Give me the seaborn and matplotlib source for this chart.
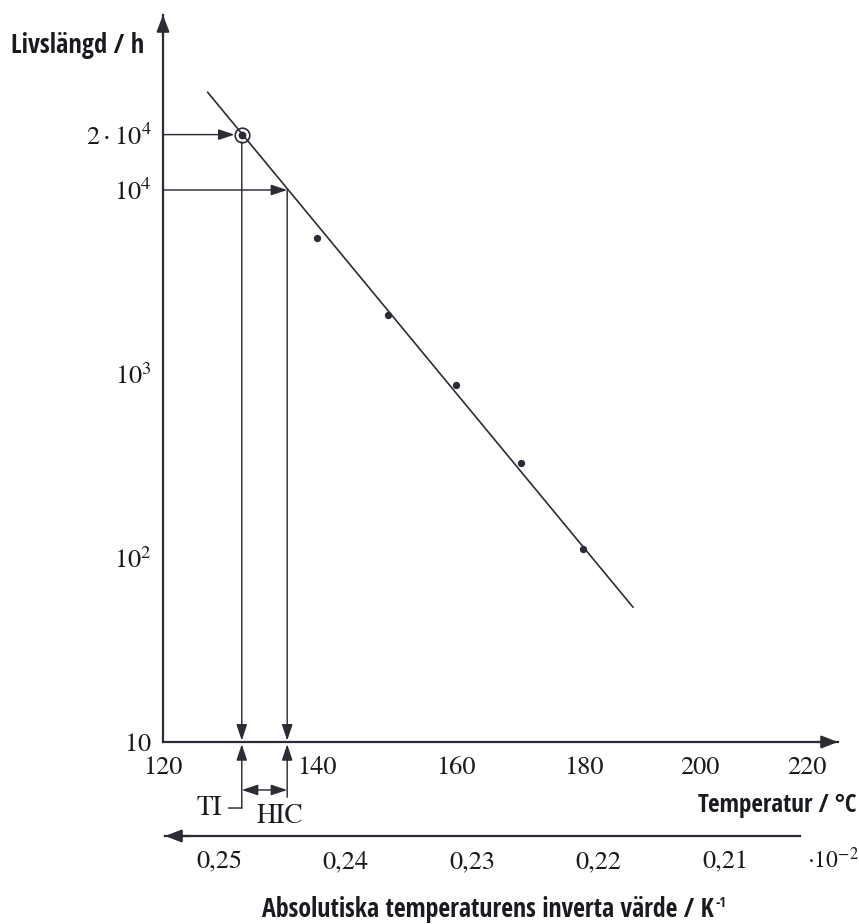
import numpy as np
import pandas as pd
import matplotlib
matplotlib.use("Agg")
import matplotlib.pyplot as plt
import seaborn as sns
from matplotlib import font_manager as fm
from matplotlib.ticker import FixedLocator, LogLocator, NullFormatter

# ---------------- data ----------------
temp_ticks = [120, 140, 160, 180, 200, 220]              # °C
inv_ticks = [0.25, 0.24, 0.23, 0.22, 0.21]               # x 10^-2 K^-1
inv_tick_labels = ["0,25", "0,24", "0,23", "0,22", "0,21"]
life_ticks = [10, 100, 1000, 10000, 20000]
life_tick_labels = [r"$10$", r"$10^{2}$", r"$10^{3}$", r"$10^{4}$", r"$2\cdot10^{4}$"]

meas_temp = [140, 150, 160, 170, 180]                    # °C
meas_life = [5500, 2100, 870, 330, 112]                  # h

fit_temp = [125.6, 188.3]                                # drawn straight line
fit_life = [34000, 54]

ti_temp, ti_life = 130, 20000                            # TI point
hic_temp, hic_life = 136, 10000                          # TI + HIC point

KELVIN = 273.15


def inv(t):
    return 1.0 / (np.asarray(t, dtype=float) + KELVIN)


df_meas = pd.DataFrame({"inv_T": inv(meas_temp), "life": meas_life})
df_fit = pd.DataFrame({"inv_T": inv(fit_temp), "life": fit_life})

# ---------------- style ----------------
sns.set_style("white")
plt.rcParams["mathtext.fontset"] = "stix"
plt.rcParams["font.family"] = ["STIXGeneral", "DejaVu Serif"]

LINE = "#2c2c36"
TEXT = "#1a1a20"

W, H = 859, 924
fig = plt.figure(figsize=(W / 100, H / 100), dpi=100, facecolor="white")
renderer = fig.canvas.get_renderer()

# pick the narrowest installed bold sans face for the condensed axis titles
candidates = [("Liberation Sans Narrow", "normal"), ("DejaVu Sans Condensed", "normal"),
              ("DejaVu Sans", "condensed"), ("Roboto Condensed", "normal"),
              ("Open Sans Condensed", "normal"), ("Noto Sans", "condensed"),
              ("Roboto", "normal"), ("Lato", "normal"), ("Liberation Sans", "normal")]
sample = "Absolutiska temperaturens inverta värde"
best = None
for fam, stretch in candidates:
    try:
        fm.findfont(fm.FontProperties(family=fam, weight="bold", stretch=stretch),
                    fallback_to_default=False)
    except Exception:
        continue
    t = fig.text(0, 0, sample, family=fam, weight="bold", fontstretch=stretch, fontsize=20)
    w = t.get_window_extent(renderer).width
    t.remove()
    if best is None or w < best[2] - 1:
        best = (fam, stretch, w)
LABEL_FAM, LABEL_STRETCH = (best[0], best[1]) if best else ("DejaVu Sans", "normal")


def fitted_label(x, y, s, target_w, ha):
    t = fig.text(x, y, s, ha=ha, va="baseline", family=[LABEL_FAM, "DejaVu Sans"],
                 weight="bold", fontstretch=LABEL_STRETCH, fontsize=20, color=TEXT)
    w = t.get_window_extent(renderer).width
    t.set_fontsize(min(24, 20 * target_w / w))
    return t


# main axes: y-axis at x=163 px, x-axis at y=742 px
ax = fig.add_axes([163 / W, (H - 742) / H, (838 - 163) / W, (742 - 15) / H])
ax.set_facecolor("none")
ax.set_yscale("log")
x_left = float(inv(temp_ticks[0]))
ax.set_xlim(x_left, x_left - 675 / 1.2485e6)
ax.set_ylim(10, 10 ** (1 + 727 / 184))

sns.lineplot(data=df_fit, x="inv_T", y="life", ax=ax, color=LINE, lw=1.2)
sns.scatterplot(data=df_meas, x="inv_T", y="life", ax=ax, color=LINE,
                s=28, edgecolor=LINE, linewidth=0, legend=False, zorder=5)

u_ti = float(inv(ti_temp))
u_hic = float(inv(hic_temp))
# TI point with circle
ax.plot([u_ti], [ti_life], marker="o", ms=4.6, color=LINE, zorder=6)
ax.plot([u_ti], [ti_life], marker="o", ms=10.5, mfc="none", mec=LINE, mew=1.2, zorder=6)

ax.set_xlabel("")
ax.set_ylabel("")

# spines
for s in ["top", "right"]:
    ax.spines[s].set_visible(False)
for s in ["left", "bottom"]:
    ax.spines[s].set_color(LINE)
    ax.spines[s].set_linewidth(1.6)

# ticks
ax.xaxis.set_major_locator(FixedLocator(list(inv(temp_ticks))))
ax.set_xticklabels([str(t) for t in temp_ticks])
ax.yaxis.set_major_locator(FixedLocator(life_ticks))
ax.set_yticklabels(life_tick_labels)
ax.yaxis.set_minor_locator(LogLocator(base=10, subs=np.arange(2, 10), numticks=20))
ax.yaxis.set_minor_formatter(NullFormatter())
ax.tick_params(axis="x", which="major", direction="out", length=5, width=1.2,
               color=LINE, labelsize=19, pad=5, labelcolor=TEXT)
ax.tick_params(axis="y", which="major", direction="out", length=5, width=1.2,
               color=LINE, labelsize=19, pad=3, labelcolor=TEXT)
ax.tick_params(axis="y", which="minor", direction="in", length=4, width=1.0, color=LINE)
ax.tick_params(axis="x", which="minor", length=0)

# axis arrow heads
head = dict(arrowstyle="-|>,head_length=0.7,head_width=0.27", mutation_scale=14,
            color=LINE, lw=1.6, shrinkA=0, shrinkB=0)
ax.annotate("", xy=(0, 1), xycoords="axes fraction", xytext=(0, 0.97),
            textcoords="axes fraction", arrowprops=head, annotation_clip=False)
ax.annotate("", xy=(1, 0), xycoords="axes fraction", xytext=(0.97, 0),
            textcoords="axes fraction", arrowprops=head, annotation_clip=False)

# construction arrows
inner = dict(arrowstyle="-|>,head_length=0.75,head_width=0.25", mutation_scale=13,
             color=LINE, lw=1.05)
ax.annotate("", xy=(u_ti, ti_life), xytext=(x_left, ti_life),
            arrowprops=dict(inner, shrinkA=0, shrinkB=5.2), annotation_clip=False)
ax.annotate("", xy=(u_hic, hic_life), xytext=(x_left, hic_life),
            arrowprops=dict(inner, shrinkA=0, shrinkB=0), annotation_clip=False)
ax.annotate("", xy=(u_ti, 10), xytext=(u_ti, ti_life),
            arrowprops=dict(inner, shrinkA=5.2, shrinkB=1), annotation_clip=False)
ax.annotate("", xy=(u_hic, 10), xytext=(u_hic, hic_life),
            arrowprops=dict(inner, shrinkA=0, shrinkB=1), annotation_clip=False)

# below-axis arrows (x in data, y in axes fraction)
xt = ax.get_xaxis_transform()
ax.annotate("", xy=(u_ti, -0.003), xycoords=xt, xytext=(u_ti, -0.0908), textcoords=xt,
            arrowprops=dict(inner, shrinkA=0, shrinkB=0), annotation_clip=False)
ax.annotate("", xy=(u_hic, -0.003), xycoords=xt, xytext=(u_hic, -0.076), textcoords=xt,
            arrowprops=dict(inner, shrinkA=0, shrinkB=0), annotation_clip=False)
ax.annotate("", xy=(u_hic, -0.066), xycoords=xt, xytext=(u_ti, -0.066), textcoords=xt,
            arrowprops=dict(arrowstyle="<|-|>,head_length=0.75,head_width=0.25",
                            mutation_scale=13, color=LINE, lw=1.05, shrinkA=0, shrinkB=0),
            annotation_clip=False)
ax.annotate("TI", xy=(u_ti, -0.0908), xycoords=xt, xytext=(-14, 0),
            textcoords="offset points", ha="right", va="center", fontsize=19.5,
            color=TEXT, family="STIXGeneral", annotation_clip=False,
            arrowprops=dict(arrowstyle="-", color=LINE, lw=1.05, shrinkA=2, shrinkB=0))
ax.annotate("HIC", xy=(u_hic, -0.1114), xycoords=xt, xytext=(-5, 0),
            textcoords="offset points", ha="center", va="baseline", fontsize=19.5,
            color=TEXT, family="STIXGeneral", annotation_clip=False)

# secondary (inverse temperature) axis
ax2 = fig.add_axes([165 / W, (H - 836) / H, (800 - 165) / W, 0.0001])
ax2.set_facecolor("none")
ax2.set_xlim(0.0025427, 0.0020407)
ax2.set_ylim(0, 1)
for s in ["top", "right", "left"]:
    ax2.spines[s].set_visible(False)
ax2.spines["bottom"].set_color(LINE)
ax2.spines["bottom"].set_linewidth(1.6)
ax2.set_yticks([])
ax2.xaxis.set_major_locator(FixedLocator([v * 1e-2 for v in inv_ticks]))
ax2.set_xticklabels(inv_tick_labels)
ax2.tick_params(axis="x", direction="out", length=6, width=1.2, color=LINE,
                labelsize=19, pad=4, labelcolor=TEXT)
ax2.annotate("", xy=(0, 0), xycoords="axes fraction", xytext=(0.04, 0),
             textcoords="axes fraction", arrowprops=head, annotation_clip=False)
ax2.annotate(r"$\cdot10^{-2}$", xy=(1, 0), xycoords="axes fraction", xytext=(5, -23.5),
             textcoords="offset points", ha="left", va="baseline", fontsize=17,
             color=TEXT, annotation_clip=False)

# axis titles (fitted to the reference widths)
fitted_label(11 / W, 1 - 53 / H, "Livslängd / h", 133, "left")
fitted_label(856 / W, 1 - 812 / H, "Temperatur / °C", 158, "right")
abs_lab = fitted_label(262 / W, 1 - 917 / H, "Absolutiska temperaturens inverta värde / K",
                       452, "left")
ax.annotate("-1", xy=(1, 1), xycoords=abs_lab, xytext=(1, 0), textcoords="offset points",
            ha="left", va="top", family=[LABEL_FAM, "DejaVu Sans"], weight="bold",
            fontstretch=LABEL_STRETCH, fontsize=10, color=TEXT, annotation_clip=False)

fig.savefig("out.png", dpi=100, facecolor="white")
